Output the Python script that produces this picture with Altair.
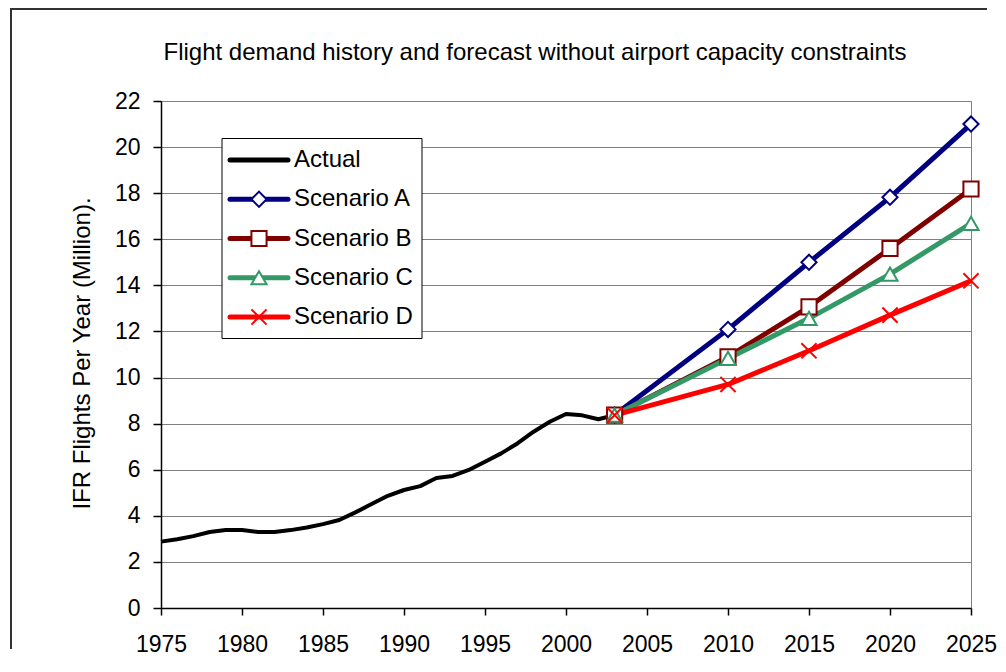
import altair as alt
import pandas as pd

FONT = "Liberation Sans"

# ---- data -------------------------------------------------------------
series = ["Actual", "Scenario A", "Scenario B", "Scenario C", "Scenario D"]
colors = ["#000000", "#000080", "#800000", "#339966", "#FF0000"]

actual_years = list(range(1975, 2004))
actual_values = [2.88, 2.98, 3.12, 3.30, 3.38, 3.38, 3.30, 3.30, 3.38, 3.49,
                 3.64, 3.82, 4.15, 4.51, 4.87, 5.12, 5.29, 5.64, 5.73, 5.99,
                 6.35, 6.71, 7.14, 7.65, 8.08, 8.42, 8.36, 8.19, 8.37]

scenario_years = [2003, 2010, 2015, 2020, 2025]
scenario_a = [8.37, 12.09, 15.00, 17.82, 21.00]
scenario_b = [8.37, 10.90, 13.07, 15.60, 18.18]
scenario_c = [8.37, 10.83, 12.57, 14.49, 16.69]
scenario_d = [8.37, 9.70, 11.16, 12.71, 14.20]

x_ticks = list(range(1975, 2026, 5))
y_ticks = list(range(0, 23, 2))
title_text = "Flight demand history and forecast without airport capacity constraints"
y_title = "IFR Flights Per Year (Million)."

# ---- tables -----------------------------------------------------------
df_act = pd.DataFrame({"series": "Actual", "year": actual_years, "value": actual_values})
rows = []
for name, vals in zip(series[1:], [scenario_a, scenario_b, scenario_c, scenario_d]):
    rows += [{"series": name, "year": y, "value": v} for y, v in zip(scenario_years, vals)]
df_scen = pd.DataFrame(rows)
leg_df = pd.DataFrame({"series": series})
leg_scen = pd.DataFrame({"series": series[1:]})
one = pd.DataFrame({"k": [0]})

x_mark = "M-1,-1L1,1M-1,1L1,-1"
color_enc = alt.Color("series:N", scale=alt.Scale(domain=series, range=colors), legend=None)
shape_enc = alt.Shape("series:N", scale=alt.Scale(domain=series[1:],
                      range=["diamond", "square", "triangle-up", x_mark]), legend=None)

x_enc = alt.X("year:Q",
              scale=alt.Scale(domain=[1975, 2025], nice=False, zero=False),
              axis=alt.Axis(values=x_ticks, format="d", title=None, grid=False,
                            labelFlush=False, labelOverlap=False, tickSize=7, labelPadding=18))
y_axis = alt.Axis(values=y_ticks, title=y_title, grid=True, tickSize=8, labelPadding=13,
                  titleX=-72, titleY=252, titleAlign="center", titleBaseline="alphabetic",
                  titleFontSize=24)
y_enc = alt.Y("value:Q", scale=alt.Scale(domain=[0, 22], nice=False), axis=y_axis)

act_line = alt.Chart(df_act).mark_line(strokeJoin="round", strokeWidth=4).encode(
    x=x_enc, y=y_enc, color=color_enc)
scen_lines = alt.Chart(df_scen).mark_line(strokeJoin="round", strokeWidth=5).encode(
    x=x_enc, y=y_enc, color=color_enc)
points = alt.Chart(df_scen).mark_point(filled=False, fill="white", fillOpacity=1, opacity=1,
                                       strokeWidth=2, size=230).encode(
    x=x_enc, y=y_enc, color=color_enc, shape=shape_enc)
main = alt.layer(act_line, scen_lines, points)

# ---- legend -----------------------------------------------------------
leg_y = alt.Y("series:N", scale=alt.Scale(type="point", domain=series, range=[59, 216], padding=0),
              axis=None)
box = alt.Chart(one).mark_rect(fill="white", stroke="black", strokeWidth=1).encode(
    x=alt.value(61), x2=alt.value(261), y=alt.value(37.5), y2=alt.value(237.5))
leg_lines = alt.Chart(leg_df).mark_rule(strokeCap="round", strokeWidth=5).encode(
    x=alt.value(69), x2=alt.value(127), y=leg_y, color=color_enc)
leg_points = alt.Chart(leg_scen).mark_point(filled=False, fill="white", fillOpacity=1, opacity=1,
                                            strokeWidth=2, size=230).encode(
    x=alt.value(98), y=leg_y, color=color_enc, shape=shape_enc)
leg_text = alt.Chart(leg_df).mark_text(align="left", baseline="middle", font=FONT, fontSize=24,
                                       color="black").encode(
    x=alt.value(133), y=leg_y, text="series:N")
legend = alt.layer(leg_lines, leg_points, leg_text)

# ---- outer chart border (left and top edges) ----------------------------
frame_left = alt.Chart(one).mark_rule(stroke="#333333", strokeWidth=2).encode(
    x=alt.value(-150), y=alt.value(-92), y2=alt.value(548))
frame_top = alt.Chart(one).mark_rule(stroke="#333333", strokeWidth=2).encode(
    x=alt.value(-151), x2=alt.value(826), y=alt.value(-92))

title = alt.Chart(one).mark_text(align="center", baseline="alphabetic", font=FONT, fontSize=24,
                                 color="black").encode(
    x=alt.value(374), y=alt.value(-41), text=alt.value(title_text))

chart = alt.layer(frame_left, frame_top, title, main, box, legend).resolve_scale(
    y="independent").properties(
    width=810, height=507,
    autosize=alt.AutoSizeParams(type="none"),
    padding={"left": 153, "top": 93, "right": 27, "bottom": 50},
    background="white",
).configure_view(stroke="#808080", strokeWidth=1).configure_axis(
    labelFont=FONT, titleFont=FONT, labelFontSize=23, titleFontSize=23,
    labelColor="black", titleColor="black", titleFontWeight="normal",
    domainColor="black", tickColor="black", domainWidth=1.5, tickWidth=1.5,
    gridColor="#808080", gridWidth=1,
)

chart.save("out.html", embed_options={"renderer": "svg", "actions": False})
